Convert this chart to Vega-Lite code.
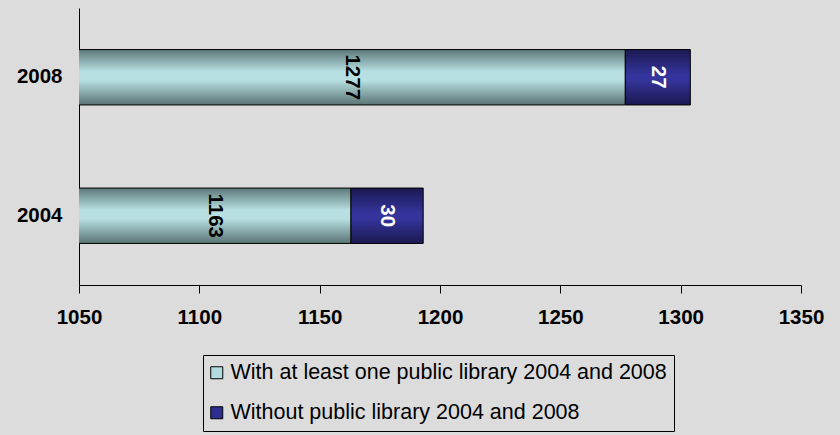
{
  "$schema": "https://vega.github.io/schema/vega-lite/v6.json",
  "width": 722,
  "height": 277,
  "autosize": {"type": "none"},
  "padding": {"left": 79, "top": 8, "right": 39, "bottom": 150},
  "background": "#dcdcdc",
  "config": {
    "view": {"stroke": null},
    "font": "Liberation Sans",
    "axis": {"labelFont": "Liberation Sans", "labelFontSize": 20.5, "labelFontWeight": "bold", "labelColor": "black", "domainColor": "black", "tickColor": "black", "grid": false, "title": null, "zindex": 1}
  },
  "data": {
    "values": [
      {"year": "2008", "series": "With at least one public library 2004 and 2008", "value": 1277},
      {"year": "2008", "series": "Without public library 2004 and 2008", "value": 27},
      {"year": "2004", "series": "With at least one public library 2004 and 2008", "value": 1163},
      {"year": "2004", "series": "Without public library 2004 and 2008", "value": 30}
    ]
  },
  "resolve": {"scale": {"x": "independent"}},
  "layer": [
    {
      "mark": {"type": "bar", "clip": true},
      "encoding": {
        "y": {"field": "year", "type": "nominal", "sort": "descending", "scale": {"paddingInner": 0.6, "paddingOuter": 0.3}, "axis": {"ticks": false, "tickSize": 0, "labelPadding": 17, "domainWidth": 1}},
        "x": {"field": "value", "type": "quantitative", "stack": "zero", "scale": {"domain": [1050, 1350], "nice": false, "zero": false}, "axis": {"values": [1050, 1100, 1150, 1200, 1250, 1300, 1350], "format": "d", "tickSize": 8, "labelPadding": 14, "labelFlush": false, "labelOverlap": false}},
        "color": {
          "field": "series", "type": "nominal",
          "scale": {"domain": ["With at least one public library 2004 and 2008", "Without public library 2004 and 2008"], "range": ["#b4dcde", "#2e2e90"]},
          "legend": {"orient": "none", "legendX": 124, "legendY": 347, "direction": "vertical", "title": null, "strokeColor": "black", "padding": 7, "symbolType": "square", "symbolSize": 144, "symbolOffset": -4, "symbolStrokeColor": "black", "symbolStrokeWidth": 1, "symbolOpacity": 1, "labelFont": "Liberation Sans", "labelFontSize": 21.5, "labelColor": "black", "rowPadding": 17, "labelOffset": 3, "labelLimit": 0}
        },
        "order": {"field": "series", "sort": "ascending"}
      }
    },
    {
      "mark": {"type": "bar", "clip": true, "stroke": "black", "strokeWidth": 1},
      "encoding": {
        "y": {"field": "year", "type": "nominal", "sort": "descending"},
        "x": {"field": "value", "type": "quantitative", "stack": "zero", "scale": {"domain": [1050, 1350], "nice": false, "zero": false}, "axis": null},
        "detail": {"field": "series"},
        "order": {"field": "series", "sort": "ascending"},
        "fill": {
          "condition": {
            "test": "datum.series === 'With at least one public library 2004 and 2008'",
            "value": {"gradient": "linear", "x1": 0, "y1": 0, "x2": 0, "y2": 1, "stops": [{"offset": 0, "color": "#5c7879"}, {"offset": 0.4, "color": "#b8e0e2"}, {"offset": 0.55, "color": "#b8e0e2"}, {"offset": 1, "color": "#5a7474"}]}
          },
          "value": {"gradient": "linear", "x1": 0, "y1": 0, "x2": 0, "y2": 1, "stops": [{"offset": 0, "color": "#1b1950"}, {"offset": 0.45, "color": "#34349c"}, {"offset": 0.55, "color": "#34349c"}, {"offset": 1, "color": "#1b1950"}]}
        }
      }
    },
    {
      "transform": [{"filter": "datum.series === 'With at least one public library 2004 and 2008'"}],
      "mark": {"type": "text", "angle": 90, "align": "center", "baseline": "middle", "fontSize": 20.5, "fontWeight": "bold", "font": "Liberation Sans", "color": "black"},
      "encoding": {
        "y": {"field": "year", "type": "nominal", "sort": "descending"},
        "x": {"field": "value", "type": "quantitative", "scale": {"domain": [1050, 1650], "nice": false, "zero": false}, "axis": null},
        "text": {"field": "value", "type": "quantitative"}
      }
    },
    {
      "mark": {"type": "text", "angle": 90, "align": "center", "baseline": "middle", "fontSize": 20.5, "fontWeight": "bold", "font": "Liberation Sans", "color": "white", "clip": true},
      "encoding": {
        "y": {"field": "year", "type": "nominal", "sort": "descending"},
        "x": {"field": "value", "type": "quantitative", "stack": "zero", "bandPosition": 0.5, "scale": {"domain": [1050, 1350], "nice": false, "zero": false}, "axis": null},
        "detail": {"field": "series"},
        "order": {"field": "series", "sort": "ascending"},
        "text": {"condition": {"test": "datum.series === 'With at least one public library 2004 and 2008'", "value": ""}, "field": "value", "type": "quantitative"}
      }
    }
  ]
}
